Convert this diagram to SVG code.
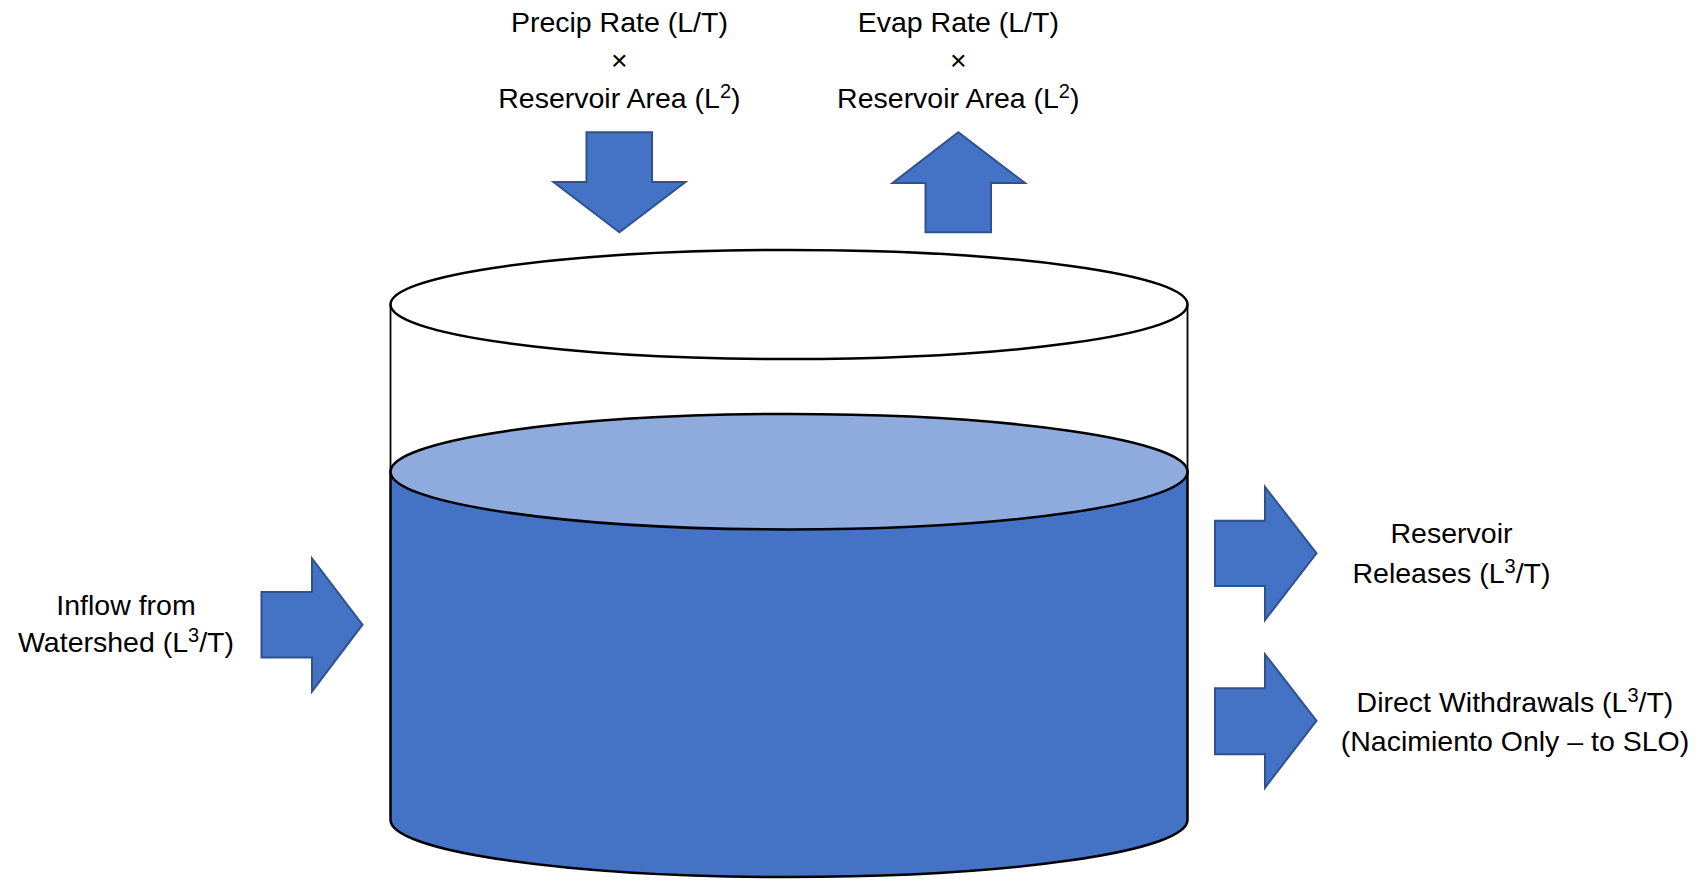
<svg xmlns="http://www.w3.org/2000/svg" width="1701" height="881" viewBox="0 0 1701 881">
<style>
.lbl{font-family:"Liberation Sans",Arial,sans-serif;font-size:28.5px;fill:#000;text-anchor:middle}
.sup{font-size:20px}
.arrow{fill:#4472C4;stroke:#2F528F;stroke-width:2;stroke-linejoin:miter}
.edge{stroke:#000;stroke-width:2.5}
</style>
<rect width="1701" height="881" fill="#fff"/>
<g id="reservoir">
<path d="M390.5,471.7 L390.5,820 A398.5,57 0 0 0 1187.5,820 L1187.5,471.7 Z" fill="#4472C4" class="edge"/>
<line x1="390.5" y1="304.5" x2="390.5" y2="471.7" stroke="#000" stroke-width="1.8"/>
<line x1="1187.5" y1="304.5" x2="1187.5" y2="471.7" stroke="#000" stroke-width="1.8"/>
<ellipse cx="789" cy="304.5" rx="398.5" ry="54.5" fill="#fff" class="edge"/>
<ellipse cx="789" cy="471.7" rx="398.5" ry="57.7" fill="#8FAADC" class="edge"/>
</g>
<g id="connectors">
<polygon id="precip-arrow" class="arrow" points="586.5,132.3 652,132.3 652,182 685.5,182 619.4,232.3 553.5,182 586.5,182"/>
<polygon id="evap-arrow" class="arrow" points="925.5,232.3 991,232.3 991,183 1025,183 958.3,132.3 892.5,183 925.5,183"/>
<polygon id="inflow-arrow" class="arrow" points="261.5,592 312,592 312,558.5 362.5,624.7 312,691.5 312,657.5 261.5,657.5"/>
<polygon id="release-arrow" class="arrow" points="1215,520.7 1265,520.7 1265,487 1316.5,553.3 1265,620 1265,586 1215,586"/>
<polygon id="withdraw-arrow" class="arrow" points="1215,688.3 1265,688.3 1265,654.3 1316.5,720.7 1265,787.7 1265,754.3 1215,754.3"/>
</g>
<g id="precip">
<text class="lbl" x="619.4" y="32">Precip Rate (L/T)</text>
<text class="lbl" x="619.4" y="70">×</text>
<text class="lbl" x="619.4" y="108">Reservoir Area (L<tspan class="sup" dy="-10">2</tspan><tspan dy="10">)</tspan></text>
</g>
<g id="evap">
<text class="lbl" x="958.3" y="32">Evap Rate (L/T)</text>
<text class="lbl" x="958.3" y="70">×</text>
<text class="lbl" x="958.3" y="108">Reservoir Area (L<tspan class="sup" dy="-10">2</tspan><tspan dy="10">)</tspan></text>
</g>
<g id="inflow">
<text class="lbl" x="126" y="615">Inflow from</text>
<text class="lbl" x="126" y="652">Watershed (L<tspan class="sup" dy="-10">3</tspan><tspan dy="10">/T)</tspan></text>
</g>
<g id="releases">
<text class="lbl" x="1451.5" y="543">Reservoir</text>
<text class="lbl" x="1451.5" y="582.5">Releases (L<tspan class="sup" dy="-10">3</tspan><tspan dy="10">/T)</tspan></text>
</g>
<g id="withdrawals">
<text class="lbl" x="1515" y="711.5">Direct Withdrawals (L<tspan class="sup" dy="-10">3</tspan><tspan dy="10">/T)</tspan></text>
<text class="lbl" x="1515" y="750.5">(Nacimiento Only – to SLO)</text>
</g>
</svg>
